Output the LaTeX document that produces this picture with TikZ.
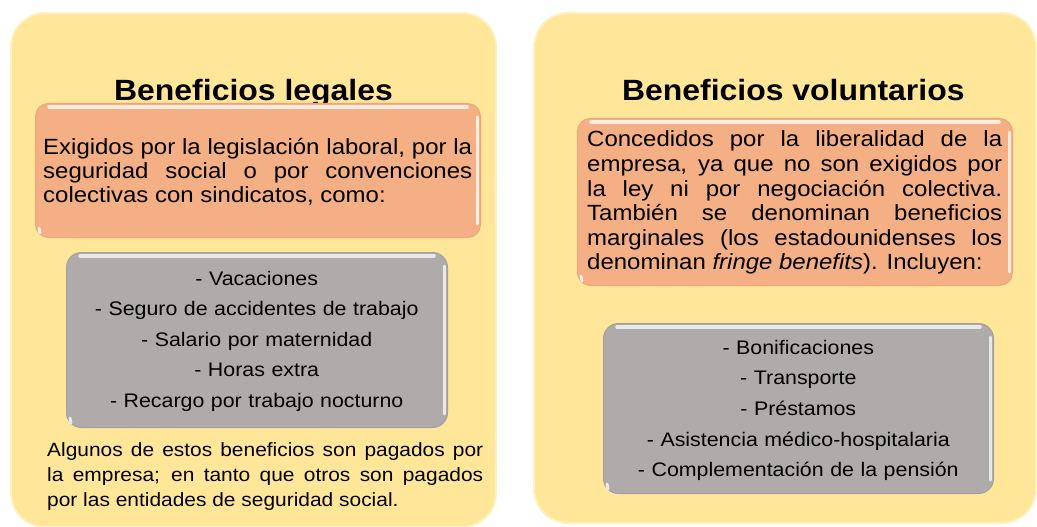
\documentclass[tikz,border=0pt]{standalone}
\usepackage{fontspec}
\setmainfont[FakeStretch=1.09]{Liberation Sans}
\usetikzlibrary{calc}
\definecolor{panelY}{HTML}{FFE699}
\definecolor{panelRim}{HTML}{FFF1C2}
\definecolor{orangeC}{HTML}{F4B084}
\definecolor{orangeRim}{HTML}{EFA577}
\definecolor{grayC}{HTML}{AFABAB}
\definecolor{grayRim}{HTML}{A3A0A0}
\hyphenpenalty=10000
\exhyphenpenalty=10000
\tikzset{
  panel/.style={fill=panelY, draw=panelRim, line width=2pt, rounded corners=34pt, inner sep=0pt, anchor=north west},
  obox/.style={fill=orangeC, draw=orangeRim, line width=1pt, rounded corners=13pt, inner sep=0pt, anchor=north west},
  gbox/.style={fill=grayC, draw=grayRim, line width=1pt, rounded corners=15pt, inner sep=0pt, anchor=north west},
  hl/.style={draw=white, line width=3.5pt, line cap=round, opacity=.75},
  titletext/.style={font=\fontsize{29.3}{35}\selectfont\bfseries, anchor=base, inner sep=0pt},
  para/.style={inner sep=0pt, anchor=north west, align=justify},
  listtext/.style={inner sep=0pt, anchor=north, align=center, text width=380pt},
}
\begin{document}
\begin{tikzpicture}[x=1pt,y=-1pt]
\useasboundingbox (0,0) rectangle (1037,527);
% panels
\node[panel, minimum width=485pt, minimum height=514pt] (lp) at (10,12) {};
\node[panel, minimum width=502pt, minimum height=510pt] (rp) at (533,12) {};
% titles
\node[titletext] (lt) at (253.5,100) {Beneficios legales};
\node[titletext] (rt) at (793.3,100) {Beneficios voluntarios};
% orange boxes
\node[obox, minimum width=445pt, minimum height=134pt] (lo) at (35,103) {};
\node[obox, minimum width=435pt, minimum height=167pt] (ro) at (577,118) {};
% gray boxes
\node[gbox, minimum width=381pt, minimum height=175pt] (lg) at (66,252) {};
\node[gbox, minimum width=390pt, minimum height=170pt] (rg) at (603,323) {};
% bevel highlights
\foreach \b in {lo,ro,lg,rg}{
  \draw[hl] ($(\b.north west)+(14pt,-4pt)$) -- ($(\b.north east)+(-14pt,-4pt)$);
  \draw[hl, line width=3pt] ($(\b.north east)+(-4pt,-14pt)$) -- ($(\b.south east)+(-4pt,14pt)$);
  \draw[hl, line width=3pt] ($(\b.south west)+(4pt,10pt)$) -- ($(\b.south west)+(5pt,5pt)$);
}
% texts
\node[para, text width=429pt, font=\fontsize{22}{24.3}\selectfont] (ltx) at (43,137) {\strut Exigidos por la legislación laboral, por la\linebreak seguridad social o por convenciones\linebreak colectivas con sindicatos, como:};
\node[para, text width=415pt, font=\fontsize{22}{24.6}\selectfont] (rtx) at (587,129.5) {\strut Concedidos por la liberalidad de la\linebreak empresa, ya que no son exigidos por\linebreak la ley ni por negociación colectiva.\linebreak También se denominan beneficios\linebreak marginales (los estadounidenses los\linebreak denominan \textit{fringe benefits}). Incluyen:};
\node[listtext, font=\fontsize{19.6}{30.5}\selectfont] (lgl) at (256.7,263.7) {\strut - Vacaciones\\ - Seguro de accidentes de trabajo\\ - Salario por maternidad\\ - Horas extra\\ - Recargo por trabajo nocturno};
\node[listtext, font=\fontsize{19.6}{30.7}\selectfont] (rgl) at (798.3,332.5) {\strut - Bonificaciones\\ - Transporte\\ - Préstamos\\ - Asistencia médico-hospitalaria\\ - Complementación de la pensión};
\node[para, text width=436pt, font=\fontsize{19.2}{24.6}\selectfont] (lbx) at (47,439.5) {\strut Algunos de estos beneficios son pagados por\linebreak la empresa; en tanto que otros son pagados\linebreak por las entidades de seguridad social.};
\end{tikzpicture}
\end{document}
